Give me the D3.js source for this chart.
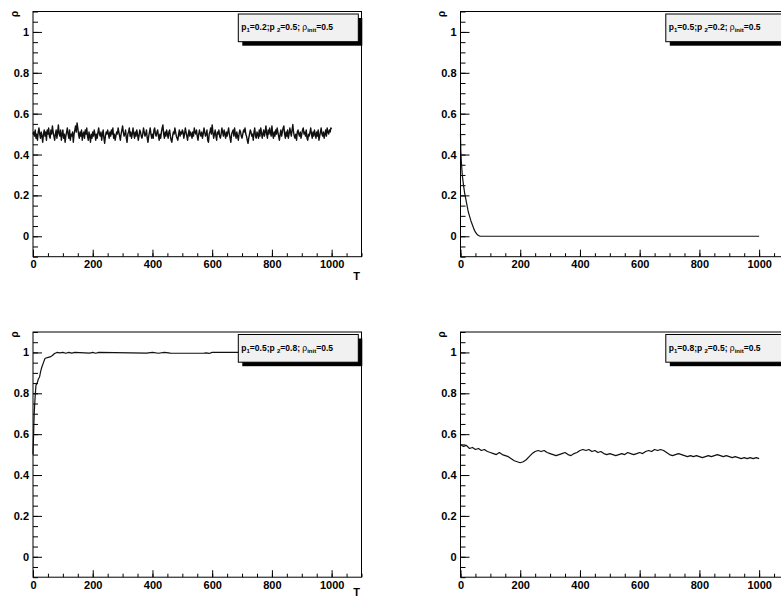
<!DOCTYPE html>
<html>
<head>
<meta charset="utf-8">
<script src="https://cdn.jsdelivr.net/npm/d3@7"></script>
<style>
  html, body { margin: 0; padding: 0; background: #fff; }
  svg { display: block; }
  text { font-family: "Liberation Sans", Arial, Helvetica, sans-serif; font-weight: bold; }
</style>
</head>
<body>
<svg id="chart" width="781" height="597"></svg>
<script>
// ---------- DATA ----------
const xMajorTicks = [0, 200, 400, 600, 800, 1000];
const yMajorTicks = [0, 0.2, 0.4, 0.6, 0.8, 1];
const yTickLabels = ["0", "0.2", "0.4", "0.6", "0.8", "1"];
const xLabel = "T";
const yLabel = "ρ";

// Panel 1: p1=0.2, p2=0.5 (values every 2.5 time steps)
const p1Step = 2.5;
const p1Values = [
  0.50,0.51,0.49,0.52,0.48,0.50,0.47,0.51,0.53,0.50,0.48,0.51,0.49,0.46,0.50,0.52,0.49,0.51,0.47,0.52,
  0.50,0.53,0.49,0.48,0.52,0.50,0.54,0.51,0.49,0.47,0.50,0.52,0.48,0.51,0.545,0.50,0.49,0.52,0.47,0.50,
  0.52,0.48,0.50,0.46,0.49,0.51,0.53,0.50,0.48,0.52,0.47,0.50,0.49,0.51,0.46,0.50,0.52,0.54,0.51,0.555,
  0.53,0.50,0.48,0.51,0.49,0.52,0.47,0.50,0.51,0.48,0.52,0.50,0.53,0.49,0.47,0.51,0.49,0.46,0.50,0.48,
  0.51,0.49,0.52,0.50,0.47,0.50,0.48,0.51,0.53,0.50,0.49,0.51,0.47,0.50,0.52,0.48,0.455,0.49,0.51,0.50,
  0.52,0.50,0.48,0.51,0.49,0.52,0.50,0.53,0.48,0.50,0.47,0.49,0.51,0.50,0.53,0.51,0.49,0.47,0.50,0.52,
  0.54,0.51,0.49,0.50,0.52,0.48,0.46,0.50,0.51,0.53,0.49,0.51,0.48,0.50,0.53,0.50,0.48,0.51,0.49,0.52,
  0.50,0.47,0.49,0.52,0.51,0.49,0.48,0.50,0.53,0.51,0.49,0.50,0.52,0.48,0.46,0.49,0.51,0.53,0.50,0.48,
  0.50,0.48,0.52,0.53,0.50,0.49,0.51,0.52,0.49,0.47,0.50,0.48,0.51,0.53,0.545,0.50,0.48,0.51,0.49,0.52,
  0.50,0.48,0.51,0.52,0.49,0.47,0.46,0.49,0.51,0.50,0.53,0.51,0.49,0.48,0.47,0.50,0.52,0.49,0.51,0.50,
  0.52,0.51,0.48,0.50,0.53,0.51,0.49,0.47,0.50,0.52,0.49,0.51,0.50,0.48,0.51,0.49,0.53,0.51,0.50,0.52,
  0.49,0.47,0.50,0.52,0.50,0.49,0.51,0.48,0.50,0.53,0.51,0.49,0.50,0.52,0.47,0.46,0.50,0.51,0.53,0.50,
  0.545,0.51,0.48,0.50,0.52,0.49,0.47,0.51,0.50,0.52,0.49,0.48,0.50,0.53,0.51,0.49,0.52,0.50,0.48,0.51,
  0.49,0.51,0.53,0.50,0.48,0.46,0.50,0.51,0.52,0.49,0.53,0.50,0.48,0.51,0.49,0.47,0.50,0.52,0.51,0.49,
  0.48,0.50,0.52,0.51,0.53,0.50,0.49,0.47,0.455,0.48,0.50,0.52,0.51,0.49,0.50,0.47,0.51,0.53,0.49,0.48,
  0.51,0.50,0.48,0.52,0.49,0.53,0.51,0.48,0.50,0.52,0.49,0.51,0.54,0.50,0.48,0.52,0.50,0.53,0.51,0.49,
  0.54,0.50,0.48,0.51,0.49,0.52,0.50,0.53,0.51,0.49,0.47,0.50,0.52,0.49,0.51,0.53,0.54,0.50,0.48,0.51,
  0.49,0.52,0.48,0.50,0.53,0.51,0.49,0.52,0.547,0.51,0.49,0.48,0.50,0.47,0.51,0.52,0.50,0.49,0.51,0.48,
  0.50,0.52,0.53,0.50,0.51,0.49,0.52,0.48,0.47,0.50,0.49,0.51,0.53,0.50,0.48,0.51,0.49,0.52,0.50,0.48,
  0.51,0.49,0.52,0.47,0.49,0.51,0.53,0.50,0.49,0.51,0.48,0.50,0.52,0.49,0.53,0.51,0.50,0.52,0.51,0.53,
  0.525
];

// Panel 2: p1=0.5, p2=0.2
const p2T = [0,1,3,6,10,14,18,22,26,30,35,40,45,50,55,60,66,1000];
const p2V = [0.5,0.42,0.36,0.30,0.25,0.21,0.18,0.15,0.12,0.10,0.075,0.055,0.035,0.02,0.01,0.004,0,0];

// Panel 3: p1=0.5, p2=0.8
const p3T = [0,2,4,7,10,14,18,22,26,30,35,40,48,57,65,72,80,90,100,110,120,130,140,190,200,210,220,380,400,420,440,460,570,580,590,600,1000];
const p3V = [0.5,0.6,0.7,0.78,0.84,0.85,0.87,0.88,0.91,0.93,0.95,0.97,0.975,0.978,0.985,0.995,1.0,0.998,1.0,0.996,1.0,0.997,1.0,0.997,1.0,0.996,1.0,0.997,1.0,0.996,1.0,0.997,0.996,0.998,0.995,1.0,1.0];

// Panel 4: p1=0.8, p2=0.5 (values every 10 time steps)
const p4Step = 10;
const p4Values = [
  0.55,0.54,0.545,0.53,0.535,0.525,0.53,0.52,0.525,0.515,
  0.51,0.505,0.50,0.51,0.50,0.495,0.49,0.48,0.47,0.465,
  0.46,0.465,0.475,0.49,0.505,0.515,0.52,0.515,0.52,0.51,
  0.505,0.50,0.495,0.50,0.505,0.51,0.50,0.495,0.505,0.51,
  0.52,0.525,0.52,0.525,0.515,0.52,0.51,0.515,0.505,0.50,
  0.505,0.50,0.495,0.50,0.505,0.50,0.51,0.505,0.50,0.505,
  0.51,0.505,0.515,0.52,0.515,0.525,0.52,0.525,0.52,0.51,
  0.50,0.495,0.50,0.505,0.50,0.495,0.49,0.495,0.49,0.495,
  0.49,0.485,0.49,0.495,0.49,0.495,0.50,0.495,0.49,0.495,
  0.49,0.485,0.49,0.485,0.48,0.485,0.48,0.485,0.48,0.485,
  0.48
];

const legends = [
  { p1: "0.2", p2: "0.5", rho: "0.5" },
  { p1: "0.5", p2: "0.2", rho: "0.5" },
  { p1: "0.5", p2: "0.8", rho: "0.5" },
  { p1: "0.8", p2: "0.5", rho: "0.5" }
];

// ---------- BUILD SERIES ----------
const series = [
  p1Values.map((v, i) => ({ t: i * p1Step, v })),
  p2T.map((t, i) => ({ t, v: p2V[i] })),
  p3T.map((t, i) => ({ t, v: p3V[i] })),
  p4Values.map((v, i) => ({ t: i * p4Step, v }))
];

// ---------- LAYOUT ----------
const panels = [
  { left: 33,    top: 11.5, showT: true,  tDy: 23 },
  { left: 460.5, top: 11.5, showT: false, tDy: 23 },
  { left: 33,    top: 332,  showT: true,  tDy: 19 },
  { left: 460.5, top: 332,  showT: false, tDy: 19 }
];
const W = 328.5, H = 245.2;

const svg = d3.select("#chart");

panels.forEach((p, idx) => {
  const g = svg.append("g").attr("transform", `translate(${p.left},${p.top})`);
  const x = d3.scaleLinear().domain([0, 1100]).range([0, W]);
  const y = d3.scaleLinear().domain([-0.1, 1.1]).range([H, 0]);

  // minor ticks x
  g.append("g").attr("transform", `translate(0,${H})`)
    .call(d3.axisBottom(x).tickValues(d3.range(0, 1101, 50)).tickSize(-3.5).tickSizeOuter(0).tickFormat(""))
    .call(a => a.select(".domain").remove())
    .call(a => a.selectAll("line").attr("stroke", "#000"));
  // major ticks x
  g.append("g").attr("transform", `translate(0,${H})`)
    .call(d3.axisBottom(x).tickValues(xMajorTicks).tickSize(-7).tickSizeOuter(0).tickPadding(4).tickFormat(d3.format("d")))
    .call(a => a.select(".domain").remove())
    .call(a => a.selectAll("line").attr("stroke", "#000"))
    .call(a => a.selectAll("text").attr("fill", "#000").style("font-size", "11px").style("font-weight", "bold").style("font-family", "Liberation Sans, Arial, sans-serif"));

  // minor ticks y
  g.append("g")
    .call(d3.axisLeft(y).tickValues(d3.range(-0.1, 1.1001, 0.05).map(v => +v.toFixed(2))).tickSize(-5).tickSizeOuter(0).tickFormat(""))
    .call(a => a.select(".domain").remove())
    .call(a => a.selectAll("line").attr("stroke", "#000"));
  // major ticks y
  g.append("g")
    .call(d3.axisLeft(y).tickValues(yMajorTicks).tickSize(-9).tickSizeOuter(0).tickPadding(4).tickFormat((d, i) => yTickLabels[i]))
    .call(a => a.select(".domain").remove())
    .call(a => a.selectAll("line").attr("stroke", "#000"))
    .call(a => a.selectAll("text").attr("fill", "#000").style("font-size", "11px").style("font-weight", "bold").style("font-family", "Liberation Sans, Arial, sans-serif"));

  // data line
  const line = d3.line().x(d => x(d.t)).y(d => y(d.v));
  g.append("path").datum(series[idx])
    .attr("d", line)
    .attr("fill", "none")
    .attr("stroke", "#111")
    .attr("stroke-width", idx === 0 ? 1.4 : 1.2)
    .attr("stroke-linejoin", "round");

  // frame
  g.append("rect").attr("x", 0).attr("y", 0).attr("width", W).attr("height", H)
    .attr("fill", "none").attr("stroke", "#000").attr("stroke-width", 1);

  // axis titles
  g.append("text")
    .attr("transform", `translate(-19,2.5) rotate(-90)`)
    .attr("text-anchor", "middle")
    .attr("dominant-baseline", "central")
    .style("font-size", "10px")
    .text(yLabel);
  if (p.showT) {
    g.append("text")
      .attr("x", 323.7).attr("y", H + p.tDy)
      .attr("text-anchor", "middle")
      .style("font-size", "11px")
      .text(xLabel);
  }

  // legend box
  const lx = 205.3, ly = 2.5, lw = 120, lh = 27.7;
  const lg = g.append("g").attr("transform", `translate(${lx},${ly})`);
  lg.append("rect").attr("x", 4).attr("y", 4).attr("width", lw).attr("height", lh).attr("fill", "#000");
  lg.append("rect").attr("x", 0).attr("y", 0).attr("width", lw).attr("height", lh)
    .attr("fill", "#f1f1f1").attr("stroke", "#000").attr("stroke-width", 1);
  const L = legends[idx];
  const t = lg.append("text").attr("x", 3).attr("y", 16).style("font-size", "8.5px");
  t.append("tspan").text("p");
  t.append("tspan").attr("dy", 2).style("font-size", "6px").text("1");
  t.append("tspan").attr("dy", -2).text(`=${L.p1};p `);
  t.append("tspan").attr("dy", 2).style("font-size", "6px").text("2");
  t.append("tspan").attr("dy", -2).text(`=${L.p2}; `);
  t.append("tspan").style("font-weight", "normal").text("ρ");
  t.append("tspan").attr("dy", 2).style("font-size", "6px").text("init");
  t.append("tspan").attr("dy", -2).text(`=${L.rho}`);
});
</script>
</body>
</html>
